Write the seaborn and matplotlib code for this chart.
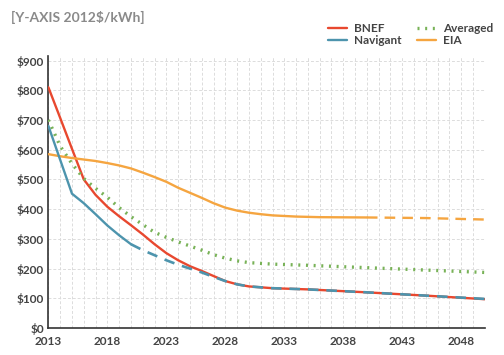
import matplotlib
matplotlib.use('Agg')
import matplotlib.pyplot as plt
from matplotlib.ticker import MultipleLocator, FixedLocator, FuncFormatter
import seaborn as sns
import pandas as pd

# BNEF (solid through 2030, then overlapped by Navigant dashes)
bnefYears = [2013, 2014, 2015, 2016, 2017, 2018, 2019, 2020, 2021, 2022, 2023, 2024, 2025,
             2026, 2027, 2028, 2029, 2030, 2032, 2035, 2040, 2045, 2050]
bnefCost = [810, 707, 603, 500, 448, 408, 376, 346, 315, 282, 252, 228, 208,
            192, 175, 158, 147, 140, 134, 130, 120, 109, 97]

# Navigant: solid to 2020, dashed after
navYears = [2013, 2014, 2015, 2016, 2017, 2018, 2019, 2020]
navCost = [680, 566, 452, 420, 383, 345, 312, 282]
navDashYears = [2020, 2021, 2022, 2023, 2024, 2025, 2026, 2027, 2028, 2029, 2030,
                2032, 2035, 2040, 2045, 2050]
navDashCost = [282, 262, 245, 228, 213, 200, 187, 172, 158, 147, 140,
               134, 130, 120, 109, 98]

# Averaged
avgYears = [2013, 2014, 2015, 2016, 2017, 2018, 2019, 2020, 2021, 2022, 2023, 2024, 2025,
            2026, 2027, 2028, 2029, 2030, 2032, 2035, 2040, 2045, 2050]
avgCost = [700, 612, 553, 503, 470, 440, 405, 375, 348, 322, 305, 290, 276,
           262, 247, 235, 226, 220, 215, 211, 203, 195, 187]

# EIA: solid to 2040, dashed after
eiaYears = [2013, 2014, 2015, 2016, 2017, 2018, 2019, 2020, 2021, 2022, 2023, 2024, 2025,
            2026, 2027, 2028, 2029, 2030, 2031, 2032, 2034, 2036, 2040]
eiaCost = [585, 578, 572, 567, 562, 555, 547, 537, 523, 508, 492, 472, 455,
           438, 420, 405, 395, 388, 383, 379, 375, 373, 372]
eiaDashYears = [2040, 2045, 2050]
eiaDashCost = [372, 370, 365]

xTicks = [2013, 2018, 2023, 2028, 2033, 2038, 2043, 2048]

red = '#e8482f'
blue = '#4d94ad'
green = '#78b257'
orange = '#f5a540'

sns.set_style("white")
plt.rcParams['font.family'] = ['Lato', 'DejaVu Sans']

fig = plt.figure(figsize=(5.04, 3.55), dpi=100)
ax = fig.add_axes([0.096, 0.076, 0.866, 0.766])

lw = 1.7
sns.lineplot(x=bnefYears, y=bnefCost, ax=ax, color=red, lw=lw, label='BNEF', zorder=3)
sns.lineplot(x=navYears, y=navCost, ax=ax, color=blue, lw=lw, label='Navigant', zorder=4)
sns.lineplot(x=navDashYears, y=navDashCost, ax=ax, color=blue, lw=lw + 0.2, label='_nolegend_',
             linestyle=(0, (4, 3)), zorder=4)
sns.lineplot(x=avgYears, y=avgCost, ax=ax, color=green, lw=2.4, label='Averaged',
             linestyle=(0, (0.6, 1.7)), zorder=3)
sns.lineplot(x=eiaYears, y=eiaCost, ax=ax, color=orange, lw=lw, label='EIA', zorder=3)
sns.lineplot(x=eiaDashYears, y=eiaDashCost, ax=ax, color=orange, lw=lw, label='_nolegend_',
             linestyle=(0, (4.5, 3)), zorder=3)

ax.set_xlim(2013, 2050)
ax.set_ylim(0, 915)
ax.xaxis.set_major_locator(FixedLocator(xTicks))
ax.xaxis.set_minor_locator(MultipleLocator(1))
ax.yaxis.set_major_locator(MultipleLocator(100))
ax.yaxis.set_major_formatter(FuncFormatter(lambda v, p: '${:.0f}'.format(v)))

ax.grid(which='both', axis='x', color='#dcdcdc', linestyle=(0, (3, 2)), lw=0.7)
ax.grid(which='major', axis='y', color='#dcdcdc', linestyle=(0, (3, 2)), lw=0.7)
ax.set_axisbelow(True)

for side in ['top', 'right']:
    ax.spines[side].set_visible(False)
for side in ['left', 'bottom']:
    ax.spines[side].set_color('#333333')
    ax.spines[side].set_linewidth(1.2)

ax.tick_params(axis='y', direction='in', length=4, width=1, color='#333333',
               labelsize=8.5, labelcolor='#444444', pad=3)
ax.tick_params(axis='x', which='major', direction='inout', length=7, width=1,
               color='#333333', labelsize=8.5, labelcolor='#444444', pad=2)
ax.tick_params(axis='x', which='minor', direction='out', length=3, width=0.8, color='#333333')
for lbl in ax.get_xticklabels() + ax.get_yticklabels():
    lbl.set_fontweight('bold')

ax.set_xlabel('')
ax.set_ylabel('')

handles, labels = ax.get_legend_handles_labels()
ax.legend_.remove()
fig.legend(handles, labels, loc='upper left', bbox_to_anchor=(0.63, 0.965), ncol=2,
           frameon=False, handlelength=1.6, handletextpad=0.6,
           columnspacing=1.3, labelspacing=0.05, prop={'weight': 'bold', 'size': 8.5},
           labelcolor='#444444')

fig.text(0.022, 0.968, '[Y-AXIS 2012$/kWh]', fontsize=10, fontweight='bold',
         color='#8a8a8a', ha='left', va='top')

fig.savefig('out.png', dpi=100)
